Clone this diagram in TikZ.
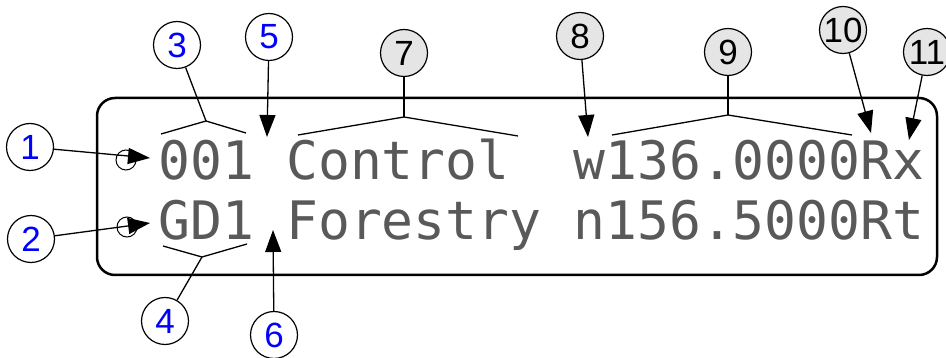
\documentclass[tikz,border=0pt]{standalone}
\usepackage{fontspec}
\setmainfont{Liberation Sans}
\newfontfamily\lcdfont{DejaVu Sans Mono}
\usetikzlibrary{arrows.meta}

\begin{document}
\begin{tikzpicture}[x=1pt,y=-1pt,line width=1.3pt,
    num/.style={circle,draw,minimum size=47pt,inner sep=0pt,line width=1.2pt,
      font=\fontsize{35}{35}\selectfont},
    blue num/.style={num,text=blue},
    gray num/.style={num,fill=gray!20},
    pin/.style={-{Triangle[length=22pt,width=16pt]}},
    hole/.style={circle,draw,minimum size=20pt,inner sep=0pt,line width=1pt},
    lcd/.style={anchor=base west,inner sep=0pt,text=black!65,
      font=\lcdfont\fontsize{53}{53}\selectfont}]
  \useasboundingbox (0,0) rectangle (946,358);
  % display window
  \draw[line width=2.5pt,rounded corners=18pt] (97,98) rectangle (937,275);
  \node[lcd] (row1) at (158,180) {001 Control~~w136.0000Rx};
  \node[lcd] (row2) at (158,240) {GD1 Forestry n156.5000Rt};
  \node[hole] (h1) at (126,160) {};
  \node[hole] (h2) at (127,227) {};

  % arrow tips
  \coordinate (t1) at (150,158);
  \coordinate (t2) at (150,223);
  \coordinate (t5) at (267,137);
  \coordinate (t6) at (273,230);
  \coordinate (t8) at (588,137);
  \coordinate (t10) at (871,133);
  \coordinate (t11) at (909,140);

  % brackets
  \coordinate (b3l) at (161,134);
  \coordinate (b3) at (206,121);
  \coordinate (b3r) at (246,133);
  \coordinate (b4l) at (163,246);
  \coordinate (b4) at (202,257);
  \coordinate (b4r) at (247,244);
  \coordinate (b7l) at (298,135);
  \coordinate (b7) at (404,117);
  \coordinate (b7r) at (518,136);
  \coordinate (b9l) at (612,135);
  \coordinate (b9) at (728,115);
  \coordinate (b9r) at (852,135);
  \draw (b3l)--(b3)--(b3r);
  \draw (b4l)--(b4)--(b4r);
  \draw (b7l)--(b7)--(b7r);
  \draw (b9l)--(b9)--(b9r);

  % callouts
  \node[blue num] (n1) at (30,147) {1};
  \node[blue num] (n2) at (31,239) {2};
  \node[blue num] (n3) at (177,45) {3};
  \node[blue num] (n4) at (165,321) {4};
  \node[blue num] (n5) at (269,37) {5};
  \node[blue num] (n6) at (274,335) {6};
  \node[gray num] (n7) at (404,53) {7};
  \node[gray num] (n8) at (580,36) {8};
  \node[gray num] (n9) at (728,52) {9};
  \node[gray num] (n10) at (843,30) {10};
  \node[gray num] (n11) at (927,52) {11};

  \draw[pin] (n1)--(t1);
  \draw[pin] (n2)--(t2);
  \draw (n3)--(b3);
  \draw (n4)--(b4);
  \draw[pin] (n5)--(t5);
  \draw[pin] (n6)--(t6);
  \draw (n7)--(b7);
  \draw[pin] (n8)--(t8);
  \draw (n9)--(b9);
  \draw[pin] (n10)--(t10);
  \draw[pin] (n11)--(t11);
\end{tikzpicture}
\end{document}
